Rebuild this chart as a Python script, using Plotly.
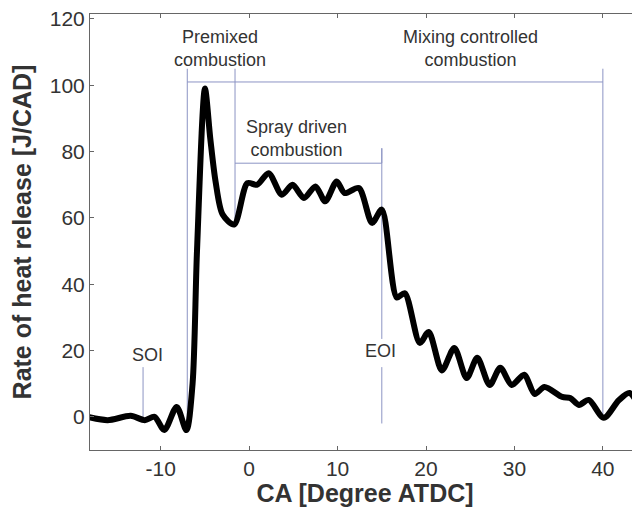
import plotly.graph_objects as go

# Heat release rate curve
ca = [-18.3, -16.0, -13.4, -11.8, -10.7, -9.6, -8.2, -7.1, -6.4, -5.9, -5.0, -4.4, -3.8, -3.0,
      -1.7, -0.2, 0.9, 2.2, 3.7, 4.9, 6.2, 7.5, 8.6, 9.9, 10.8, 12.4, 13.9, 15.0,
      16.7, 17.6, 19.3, 20.3, 21.8, 23.2, 24.6, 25.8, 27.2, 28.4, 29.7, 31.1, 32.3, 33.4,
      35.4, 36.3, 37.3, 38.4, 40.1, 41.8, 43.0, 44.4]
rohr = [0.0, -1.0, 0.3, -1.0, 0.0, -4.0, 3.0, -4.0, 10.0, 50.0, 99.0, 84.0, 71.0, 61.0,
        58.0, 70.5, 70.0, 73.5, 67.0, 70.0, 66.0, 69.5, 65.0, 71.0, 67.5, 69.0, 58.5, 62.5,
        36.0, 37.3, 22.3, 25.6, 14.0, 20.8, 11.7, 17.8, 9.6, 14.8, 9.6, 12.7, 6.9, 9.0,
        6.0, 5.7, 3.6, 5.1, -0.3, 5.0, 7.2, 1.5]

# event markers [CA]
soi = -12
premix_start = -7
spray_start = -1.6
eoi = 15
mix_end = 40
bracket_top = 101
spray_bar = 76.5

x_ticks = [-10, 0, 10, 20, 30, 40]
x_ticktext = ['-10', '0', '10', '20', '30', '40']
y_ticks = [0, 20, 40, 60, 80, 100, 120]

line_col = '#8c94c4'
txt_col = '#333333'

fig = go.Figure()

def seg(xs, ys):
    fig.add_trace(go.Scatter(x=xs, y=ys, mode='lines', showlegend=False, hoverinfo='skip',
                             line=dict(color=line_col, width=1)))

seg([soi, soi], [0, 15])
seg([premix_start, premix_start], [-4, 105])
seg([mix_end, mix_end], [-0.5, 105])
seg([premix_start, mix_end], [bracket_top, bracket_top])
seg([spray_start, spray_start], [58, 105])
seg([spray_start, eoi, eoi], [spray_bar, spray_bar, 81])
seg([eoi, eoi], [23.5, 81])
seg([eoi, eoi], [-2, 15])

fig.add_trace(go.Scatter(x=ca, y=rohr, mode='lines', showlegend=False,
                         line=dict(color='black', width=6, shape='spline', smoothing=0.8)))

labels = [
    (-3.3, 111, 'Premixed<br>combustion'),
    (5.4, 84, 'Spray driven<br>combustion'),
    (25, 111, 'Mixing controlled<br>combustion'),
    (-11.5, 18.7, 'SOI'),
    (14.8, 20, 'EOI'),
]
for x, y, t in labels:
    fig.add_annotation(x=x, y=y, text=t, showarrow=False, font=dict(size=18, color=txt_col))

axis_common = dict(showline=True, linecolor='#666666', linewidth=1, mirror='ticks',
                   ticks='inside', ticklen=4, tickcolor='#666666', showgrid=False, zeroline=False,
                   automargin=False, ticklabeloverflow='allow', tickfont=dict(size=21, color=txt_col))

# page body adds an 8px offset, so the figure is sized to the visible area
fig.update_layout(
    width=632, height=499,
    margin=dict(l=82, r=0, t=6, b=57),
    plot_bgcolor='white', paper_bgcolor='white',
    font=dict(family='Arial, Liberation Sans, sans-serif', color=txt_col),
    xaxis=dict(range=[-18, 44.2], tickvals=x_ticks, ticktext=x_ticktext,
               title=dict(text='<b>CA [Degree ATDC]</b>', font=dict(size=25, color=txt_col), standoff=2),
               **axis_common),
    yaxis=dict(range=[-10, 121.5], tickvals=y_ticks,
               title=dict(text='<b>Rate of heat release [J/CAD]</b>', font=dict(size=25, color=txt_col), standoff=12),
               **axis_common),
)

fig.write_html("out.html")
